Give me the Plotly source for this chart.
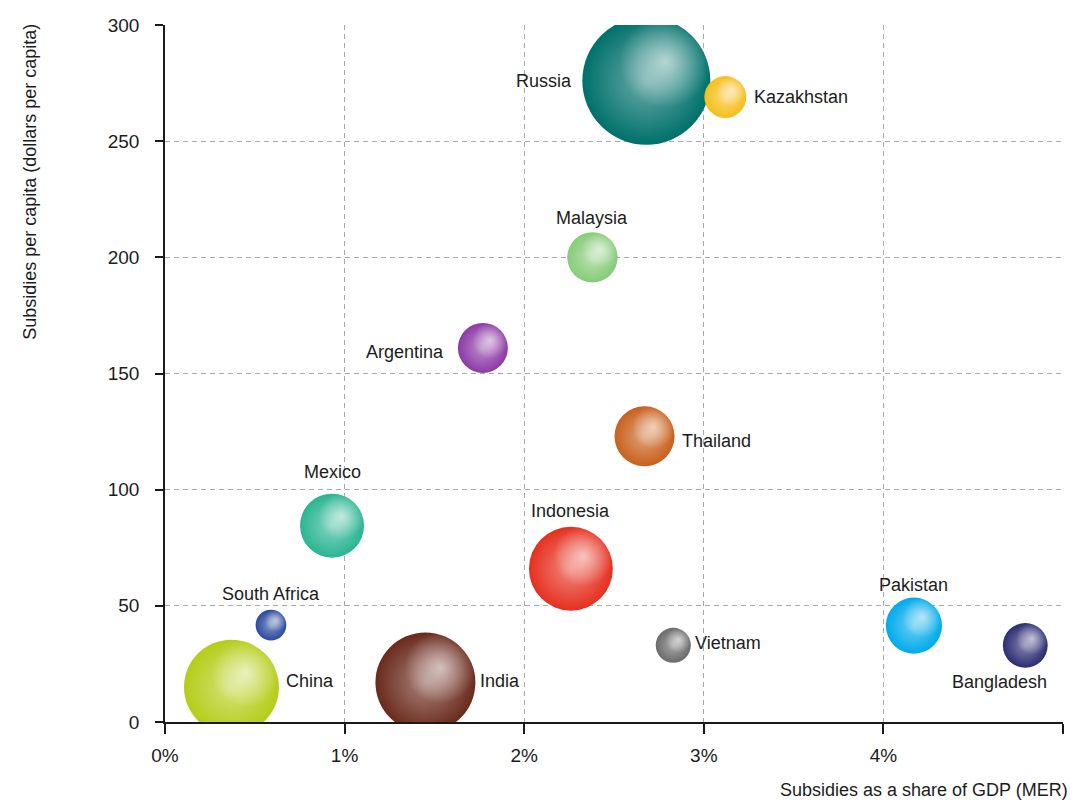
import math
import plotly.graph_objects as go

# ---- data -------------------------------------------------------------
countries = ["Russia", "Kazakhstan", "Malaysia", "Argentina", "Thailand",
             "Mexico", "Indonesia", "South Africa", "China", "India",
             "Vietnam", "Pakistan", "Bangladesh"]
# subsidies as a share of GDP (MER), percent
share_gdp = [2.68, 3.12, 2.38, 1.77, 2.67, 0.93, 2.26, 0.59, 0.37, 1.45,
             2.83, 4.17, 4.79]
# subsidies per capita, dollars
per_capita = [276, 269, 200, 161, 123, 84.5, 66, 41.7, 15, 17, 33, 41.5, 33]
# total subsidies, billion dollars (bubble area)
total_bn = [40, 4.3, 6.2, 6.1, 8.8, 10.0, 17.2, 2.3, 22.0, 24.4, 3.0, 7.7, 4.9]

x_ticks = [0, 1, 2, 3, 4, 5]
y_ticks = [0, 50, 100, 150, 200, 250, 300]

# ---- styling ----------------------------------------------------------
colors = ["#00706A", "#F6BE1A", "#86CC78", "#8C3AA6", "#C8601C",
          "#2AB592", "#E5301F", "#2A4A9C", "#B4CD18", "#6A2A1C",
          "#6A6A6A", "#00AAEB", "#2C2C74"]
# side of the bubble each label sits on, plus a small pixel nudge (dx, dy)
label_side = ["left", "right", "top", "left", "right", "top", "top", "top",
              "right", "right", "right", "top", "bottom"]
label_nudge = [(0, 0), (-2, 0), (0, -2), (-4, -4), (-3, -5), (0, 6), (0, 0),
               (0, 0), (-3, 6), (-5, 2), (-6, 2), (0, -3), (-26, 6)]
SIDE_GAP = 8
TOP_GAP = 4

W, H = 1075, 803
ML, MR, MT, MB = 165, 12, 25, 81
X_RANGE = [0, 5]
Y_RANGE = [0, 300]
MAX_D = 128                                   # px diameter of the largest bubble
SIZEREF = 2.0 * max(total_bn) / MAX_D ** 2    # plotly area-mode convention

px_per_x = (W - ML - MR) / (X_RANGE[1] - X_RANGE[0])
px_per_y = (H - MT - MB) / (Y_RANGE[1] - Y_RANGE[0])

FONT = "Liberation Sans, Arial, sans-serif"
TXT = "#1c1c1c"


def mix(hex_color, t):
    """Blend a hex colour with white by fraction t."""
    h = hex_color.lstrip("#")
    r, g, b = (int(h[i:i + 2], 16) for i in (0, 2, 4))
    r, g, b = (round(c + (255 - c) * t) for c in (r, g, b))
    return f"rgb({r},{g},{b})"


diam = [MAX_D * math.sqrt(v / max(total_bn)) for v in total_bn]
centre_colors = [mix(c, 0.42) for c in colors]

# highlight spot, shifted up and to the right inside each sphere
hl_x = [x + 0.30 * d / 2 / px_per_x for x, d in zip(share_gdp, diam)]
hl_y = [y + 0.30 * d / 2 / px_per_y for y, d in zip(per_capita, diam)]
hl_d = [0.72 * d for d in diam]

fig = go.Figure()

fig.add_trace(go.Scatter(
    x=share_gdp, y=per_capita, mode="markers",
    text=countries,
    marker=dict(
        size=total_bn, sizemode="area", sizeref=SIZEREF,
        color=colors, opacity=1,
        gradient=dict(type="radial", color=centre_colors),
        line=dict(width=0),
    ),
    hoverinfo="text", showlegend=False,
))

fig.add_trace(go.Scatter(
    x=hl_x, y=hl_y, mode="markers",
    marker=dict(
        size=hl_d, sizemode="diameter",
        color="rgba(255,255,255,0)",
        gradient=dict(type="radial", color="rgba(255,255,255,0.88)"),
        line=dict(width=0),
    ),
    hoverinfo="skip", showlegend=False,
))

# country labels placed beside each bubble
annotations = []
for name, x, y, d, side, (dx, dy) in zip(countries, share_gdp, per_capita,
                                         diam, label_side, label_nudge):
    a = dict(text=name, x=x, y=y, xref="x", yref="y", showarrow=False,
             font=dict(family=FONT, size=18, color=TXT),
             xanchor="center", yanchor="middle", xshift=dx, yshift=dy)
    if side == "left":
        a.update(xanchor="right", xshift=dx - (d / 2 + SIDE_GAP))
    elif side == "right":
        a.update(xanchor="left", xshift=dx + (d / 2 + SIDE_GAP))
    elif side == "top":
        a.update(yanchor="bottom", yshift=dy + (d / 2 + TOP_GAP))
    else:
        a.update(yanchor="top", yshift=dy - (d / 2 + SIDE_GAP))
    annotations.append(a)

annotations += [
    dict(text="Subsidies as a share of GDP (MER)",
         xref="paper", yref="paper", x=1, y=0,
         xanchor="right", yanchor="middle", xshift=7, yshift=-68,
         showarrow=False, font=dict(family=FONT, size=18, color=TXT)),
    dict(text="Subsidies per capita (dollars per capita)",
         xref="paper", yref="paper", x=0, y=0.775,
         xanchor="center", yanchor="middle", xshift=-135,
         textangle=-90, showarrow=False,
         font=dict(family=FONT, size=18, color=TXT)),
]

axis_common = dict(
    showline=True, linecolor="#1a1a1a", linewidth=1.5,
    ticks="outside", tickcolor="#1a1a1a", tickwidth=1.5,
    showgrid=True, gridcolor="#a8a8a8", gridwidth=1, griddash="5px,4px",
    zeroline=False, tickfont=dict(family=FONT, size=19, color=TXT),
    mirror=False,
)

fig.update_xaxes(range=X_RANGE, tickvals=x_ticks,
                 ticktext=[f"{v}%" for v in x_ticks],
                 ticklen=10, ticklabelstandoff=5, **axis_common)
fig.update_yaxes(range=Y_RANGE, tickvals=y_ticks,
                 ticklen=8, ticklabelstandoff=12, **axis_common)

fig.update_layout(
    width=W, height=H,
    margin=dict(l=ML, r=MR, t=MT, b=MB),
    paper_bgcolor="white", plot_bgcolor="white",
    annotations=annotations,
)

fig.write_html("out.html")
